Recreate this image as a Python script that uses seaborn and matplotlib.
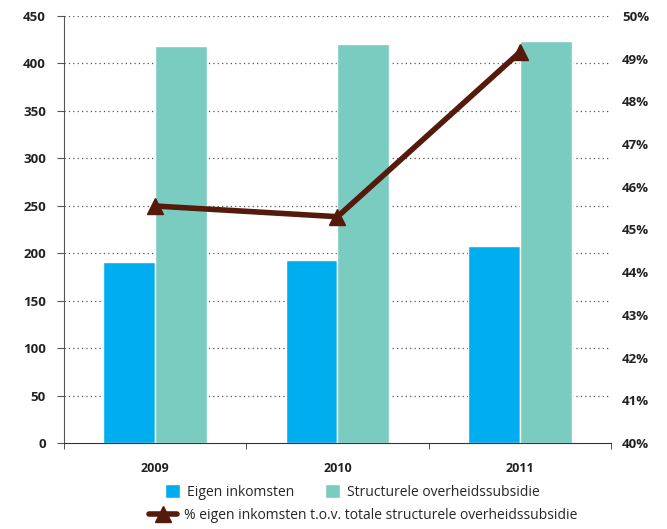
import matplotlib
matplotlib.use("Agg")
import matplotlib.pyplot as plt
import seaborn as sns
import pandas as pd
from matplotlib.patches import Patch
from matplotlib.lines import Line2D

years = ["2009", "2010", "2011"]
eigen = [191, 193, 208]
subsidie = [418, 421, 424]
pct = [45.55, 45.3, 49.15]
series_names = ["Eigen inkomsten", "Structurele overheidssubsidie"]
line_name = "% eigen inkomsten t.o.v. totale structurele overheidssubsidie"
left_ticks = list(range(0, 451, 50))
right_ticks = list(range(40, 51))

sns.set_style("white")
plt.rcParams['font.family'] = ['Open Sans', 'DejaVu Sans']

df = pd.DataFrame({
    "year": years * 2,
    "value": eigen + subsidie,
    "serie": [series_names[0]] * 3 + [series_names[1]] * 3,
})

fig = plt.figure(figsize=(6.67, 5.29), dpi=100)
ax = fig.add_axes([64/667, 86/529, (611-64)/667, (443-16)/529])
colors = ["#00aeef", "#7accc0"]
sns.barplot(data=df, x="year", y="value", hue="serie", palette=colors,
            width=0.57, ax=ax, legend=False, saturation=1)
ax.set_ylim(0, 450)
ax.set_xlim(-0.5, 2.5)
ax.set_yticks(left_ticks)
ax.set_yticklabels([str(t) for t in left_ticks], fontweight="bold", fontsize=9.5, color="#222222")
ax.set_xticklabels(years, fontweight="bold", fontsize=9, color="#222222")
ax.set_xticks([-0.5, 0.5, 1.5, 2.5], minor=True)
ax.set_xlabel("")
ax.set_ylabel("")
for y in left_ticks[1:]:
    ax.axhline(y, color="#555555", linestyle=(0, (1, 2.5)), linewidth=0.9, zorder=0)
for s in ["top", "right"]:
    ax.spines[s].set_visible(False)
ax.spines["left"].set_color("#555555")
ax.spines["bottom"].set_color("#333333")
ax.tick_params(axis="y", length=5, color="#555555", pad=8, left=True)
ax.tick_params(axis="x", which="major", length=0, pad=14)
ax.tick_params(axis="x", which="minor", length=4, color="#333333", bottom=True, direction="out")
ax.set_axisbelow(True)

ax2 = ax.twinx()
ax2.plot(range(len(years)), pct, color="#561a0c", linewidth=4, marker="^",
         markersize=12, zorder=5)
ax2.set_ylim(40, 50)
ax2.set_xlim(-0.5, 2.5)
ax2.set_yticks(right_ticks)
ax2.set_yticklabels([f"{t}%" for t in right_ticks], fontweight="bold", fontsize=9.5, color="#222222")
ax2.tick_params(axis="y", length=0, pad=8)
for s in ["top", "right", "left", "bottom"]:
    ax2.spines[s].set_visible(False)

handles1 = [Patch(facecolor=colors[0]), Patch(facecolor=colors[1])]
fig.legend(handles1, series_names, loc="center", bbox_to_anchor=(0.528, 0.07),
           ncol=2, frameon=False, fontsize=10, handlelength=1.1, handleheight=1.1,
           columnspacing=2.2, handletextpad=0.5)
h2 = [Line2D([0], [0], color="#561a0c", linewidth=4, marker="^", markersize=12)]
fig.legend(h2, [line_name], loc="center", bbox_to_anchor=(0.545, 0.025),
           frameon=False, fontsize=10, handlelength=2.0, handletextpad=0.5)

fig.savefig("out.png", dpi=100)
